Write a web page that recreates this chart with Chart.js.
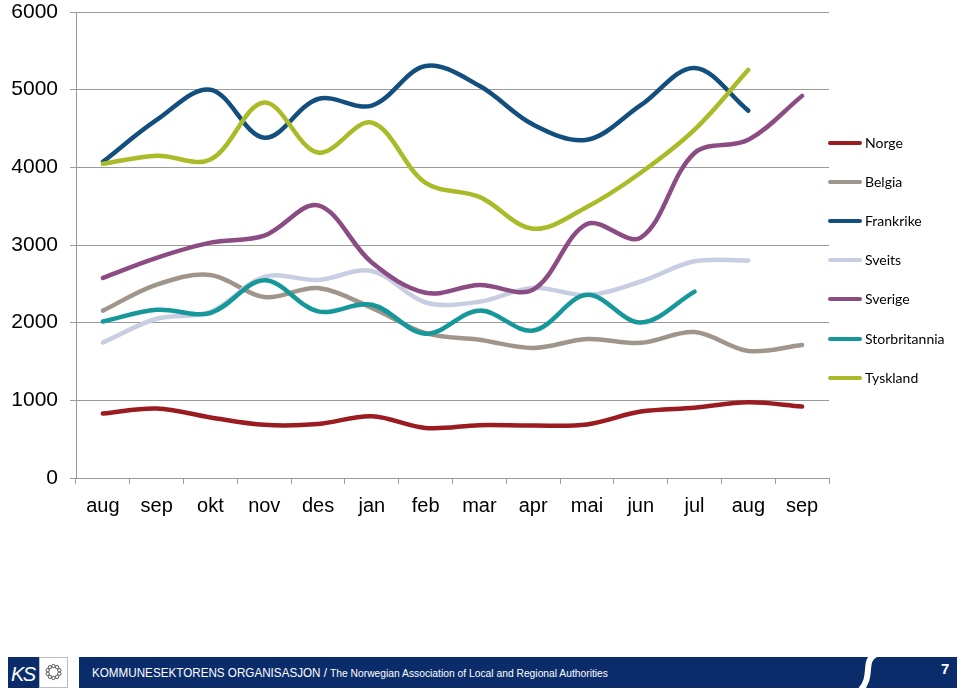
<!DOCTYPE html>
<html>
<head>
<meta charset="utf-8">
<script src="https://cdn.jsdelivr.net/npm/chart.js@4/dist/chart.umd.min.js"></script>
<style>
  html, body { margin: 0; padding: 0; background: #fff; width: 960px; height: 699px; overflow: hidden; }
  #wrap { position: absolute; left: 0; top: 0; width: 960px; height: 530px; }
  #legend { position: absolute; left: 828px; top: 0; font-family: Lato, "Liberation Sans", sans-serif; font-size: 14px; color: #000; }
  .item { position: absolute; left: 0; height: 20px; white-space: nowrap; }
  .item .ln { position: absolute; left: 0; top: 8px; width: 34px; height: 4px; border-radius: 2px; }
  .item .tx { position: absolute; left: 37px; top: 1px; line-height: 18px; }
  #footer { position: absolute; left: 0; top: 640px; }
</style>
</head>
<body>
<div id="wrap"><canvas id="c" width="960" height="530"></canvas></div>
<div id="legend"></div>
<svg id="footer" width="960" height="59" viewBox="0 640 960 59" xmlns="http://www.w3.org/2000/svg">
  <rect x="8" y="657" width="31" height="31" fill="#0b2c6b"/>
  <text x="11" y="681" fill="#fff" font-family="Liberation Sans, Arial, sans-serif" font-style="italic" font-size="20" letter-spacing="-1.5">KS</text>
  <rect x="39.5" y="657.5" width="28" height="30" fill="#fff" stroke="#b8bcc8" stroke-width="1"/>
  <g fill="none" stroke="#555" stroke-width="1">
    <circle cx="53.5" cy="666" r="1.7"/><circle cx="57.1" cy="667.2" r="1.7"/><circle cx="59.3" cy="670.2" r="1.7"/>
    <circle cx="59.3" cy="673.8" r="1.7"/><circle cx="57.1" cy="676.8" r="1.7"/><circle cx="53.5" cy="678" r="1.7"/>
    <circle cx="49.9" cy="676.8" r="1.7"/><circle cx="47.7" cy="673.8" r="1.7"/><circle cx="47.7" cy="670.2" r="1.7"/>
    <circle cx="49.9" cy="667.2" r="1.7"/>
  </g>
  <rect x="79" y="657" width="878" height="31" fill="#0b2c6b"/>
  <path d="M 876 654 C 862 661, 874 676, 860 691" stroke="#fff" stroke-width="6" fill="none"/>
  <text x="92" y="677" fill="#fff" font-family="Liberation Sans, Arial, sans-serif" font-size="13" textLength="235" lengthAdjust="spacingAndGlyphs">KOMMUNESEKTORENS ORGANISASJON /</text>
  <text x="330" y="677" fill="#fff" font-family="Liberation Sans, Arial, sans-serif" font-size="10.5" textLength="278" lengthAdjust="spacingAndGlyphs">The Norwegian Association of Local and Regional Authorities</text>
  <text x="941" y="674" fill="#fff" font-family="Liberation Sans, Arial, sans-serif" font-weight="bold" font-size="15">7</text>
</svg>
<script>
const months = ["aug","sep","okt","nov","des","jan","feb","mar","apr","mai","jun","jul","aug","sep"];
const yTicks = [0, 1000, 2000, 3000, 4000, 5000, 6000];

const seriesNames = ["Norge","Belgia","Frankrike","Sveits","Sverige","Storbritannia","Tyskland"];
const seriesColors = ["#9b1c20","#a0958a","#134f7e","#c7cee2","#8a4c82","#16979a","#aabb2a"];

const norge         = [830, 895, 780, 685, 695, 795, 645, 680, 675, 690, 855, 905, 975, 920];
const belgia        = [2155, 2490, 2615, 2330, 2445, 2190, 1865, 1780, 1675, 1790, 1740, 1880, 1636, 1712];
const frankrike     = [4070, 4610, 5000, 4380, 4880, 4795, 5305, 5050, 4550, 4355, 4800, 5280, 4730, null];
const sveits        = [1745, 2050, 2140, 2590, 2550, 2665, 2260, 2270, 2450, 2355, 2530, 2790, 2800, null];
const sverige       = [2577, 2835, 3030, 3120, 3510, 2775, 2385, 2485, 2425, 3270, 3095, 4185, 4355, 4920];
const storbritannia = [2015, 2165, 2125, 2545, 2145, 2230, 1858, 2155, 1898, 2358, 2002, 2400, null, null];
const tyskland      = [4045, 4150, 4100, 4835, 4190, 4575, 3800, 3620, 3210, 3490, 3930, 4485, 5255, null];

const seriesData = [norge, belgia, frankrike, sveits, sverige, storbritannia, tyskland];

const datasets = seriesNames.map((name, i) => ({
  label: name,
  data: seriesData[i],
  borderColor: seriesColors[i],
  backgroundColor: seriesColors[i],
  borderWidth: 4.5,
  borderCapStyle: 'round',
  borderJoinStyle: 'round',
  pointRadius: 0,
  tension: 0.35,
  fill: false,
  order: -i
}));

const axisFont = { family: "'Liberation Sans', Arial, sans-serif", size: 21 };

new Chart(document.getElementById('c'), {
  type: 'line',
  data: { labels: months, datasets },
  options: {
    responsive: false,
    animation: false,
    layout: { padding: { top: 12, right: 131, left: 0, bottom: 0 } },
    plugins: { legend: { display: false }, tooltip: { enabled: false } },
    scales: {
      x: {
        offset: true,
        grid: { display: true, offset: true, drawOnChartArea: false, drawTicks: true, tickLength: 6, color: '#9a9a9a' },
        border: { color: '#9a9a9a', width: 1 },
        ticks: { font: { family: axisFont.family, size: 20 }, color: '#000', padding: 10, maxRotation: 0, autoSkip: false },
        afterFit: (s) => { s.height = 52; s.paddingLeft = 0; s.paddingRight = 0; }
      },
      y: {
        min: 0, max: 6000,
        afterBuildTicks: (s) => { s.ticks = yTicks.map(v => ({ value: v })); },
        grid: { color: '#9a9a9a', tickLength: 6, drawTicks: true },
        border: { color: '#9a9a9a', width: 1 },
        ticks: { font: axisFont, color: '#000', padding: 12, callback: (v) => String(v) },
        afterFit: (s) => { s.width = 76; s.paddingTop = 0; s.paddingBottom = 0; }
      }
    }
  }
});

const legendY = [143, 182, 221, 260, 299, 339, 378];
const lg = document.getElementById('legend');
seriesNames.forEach((name, i) => {
  const d = document.createElement('div');
  d.className = 'item';
  d.style.top = (legendY[i] - 10) + 'px';
  d.innerHTML = '<div class="ln" style="background:' + seriesColors[i] + '"></div><div class="tx">' + name + '</div>';
  lg.appendChild(d);
});
</script>
</body>
</html>
